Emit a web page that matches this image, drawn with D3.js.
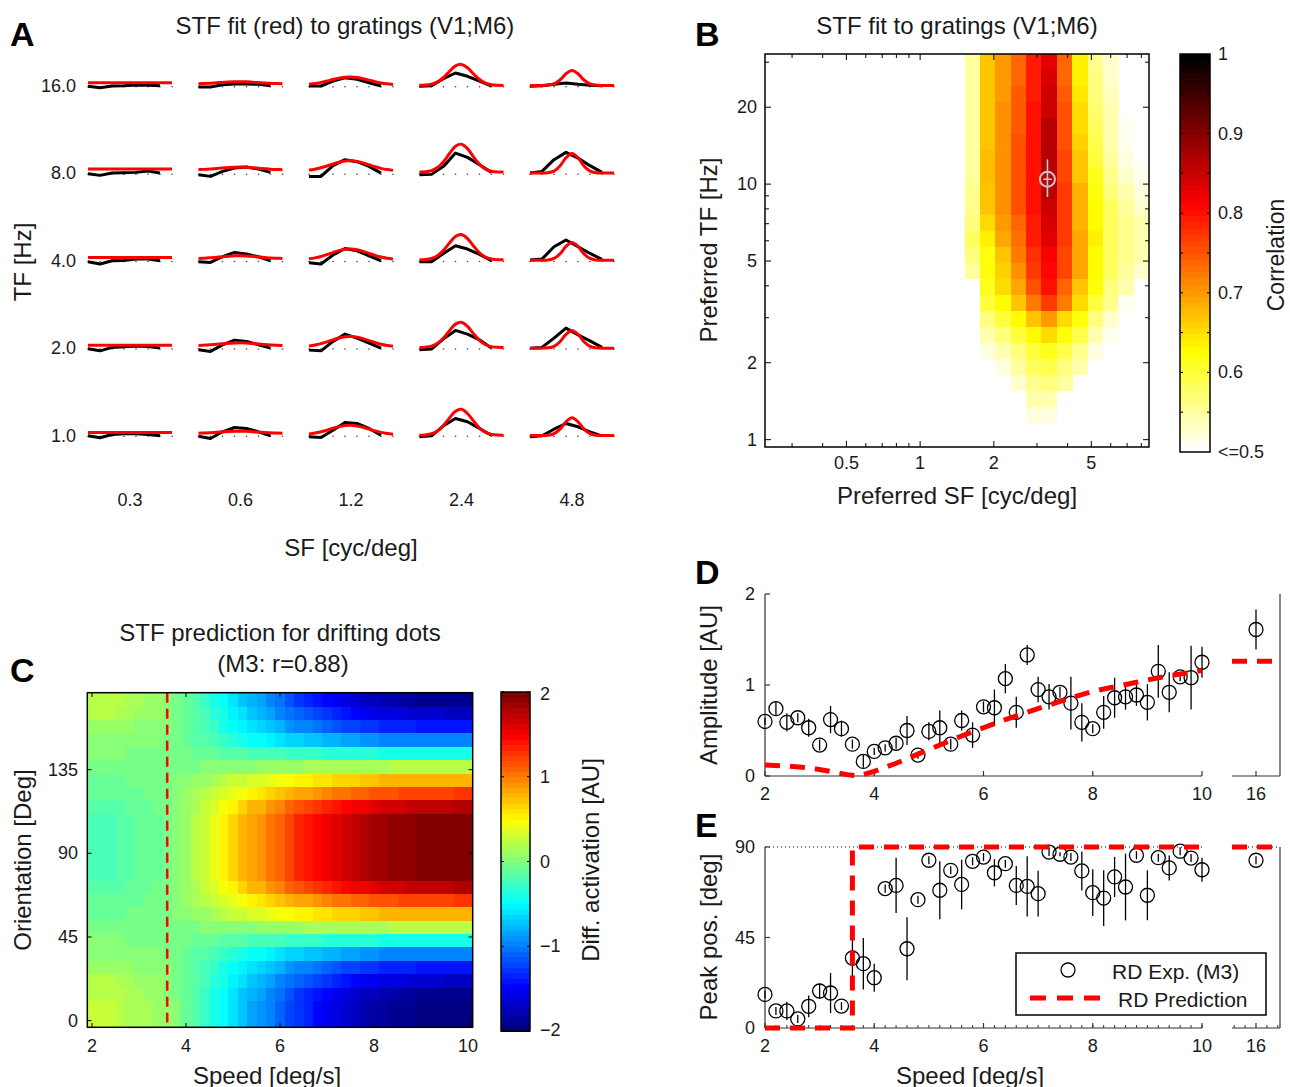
<!DOCTYPE html>
<html><head><meta charset="utf-8">
<script src="https://cdn.jsdelivr.net/npm/d3@7"></script>
<style>
body{margin:0;background:#fff}
svg{display:block}
text{font-family:"Liberation Sans",Arial,Helvetica,sans-serif;fill:#1a1a1a}
</style>
</head><body>
<svg id="fig" width="1290" height="1087"></svg>
<script>
// ================= DATA =================
// ---- Panel A: STF fit (red) to gratings ----
const aRowLabels = ["16.0","8.0","4.0","2.0","1.0"];   // TF [Hz]
const aColLabels = ["0.3","0.6","1.2","2.4","4.8"];     // SF [cyc/deg]
const aDataX = [0,1,2,3,4,5,6];
const aFitX = [0,0.5,1,1.5,2,2.5,3,3.5,4,4.5,5,5.5,6,6.5,7];
const aDotX = [0,1,2,3,4,5,6,7];
// measured responses (black), rows top->bottom, 5 cells each
const aData = [
 [[-0.03,-0.17,0,0.03,0.1,0.07,0.03],[-0.1,-0.1,0.13,0.2,0.2,0.17,0.03],[0,0,0.5,0.83,0.67,0.33,0],[-0.03,0.03,0.73,1.3,0.97,0.5,0],[-0.03,0.03,0.17,0.3,0.17,0.07,0.03]],
 [[-0.03,-0.2,0.03,0.07,0.1,0.23,0.03],[-0.13,-0.3,0.2,0.53,0.63,0.43,0.1],[-0.3,-0.3,0.77,1.37,1.17,0.7,0.03],[-0.13,-0.1,0.7,2.03,1.6,0.87,0.1],[0.03,0.2,1.37,2.1,1.53,0.77,0.1]],
 [[-0.1,-0.33,0,0.03,0.17,0.17,0],[-0.1,-0.17,0.4,0.83,0.67,0.4,0],[-0.2,-0.33,0.57,1.23,1.0,0.5,0],[-0.1,-0.1,0.73,1.5,1.17,0.63,0],[0.07,0.17,1.4,2.07,1.4,0.73,0.13]],
 [[-0.07,-0.27,0.07,0.13,0.2,0.17,0],[-0.17,-0.33,0.33,0.8,0.67,0.33,0],[-0.2,-0.27,0.67,1.4,1.0,0.5,0],[-0.17,-0.1,0.93,1.77,1.4,0.83,0],[0,0.07,1.0,2.0,1.33,0.73,0.07]],
 [[-0.03,-0.23,0.1,0.17,0.17,0.1,-0.03],[-0.07,-0.3,0.37,0.8,0.7,0.37,-0.03],[-0.13,-0.2,0.53,1.3,1.2,0.7,0.03],[-0.13,-0.03,0.97,1.7,1.37,0.7,0.03],[-0.13,-0.03,0.63,1.2,0.87,0.37,-0.03]]
];
// STF model fit (red)
const aFit = [
 [[0.33,0.33,0.33,0.33,0.33,0.33,0.33,0.33,0.33,0.33,0.33,0.33,0.33,0.33,0.33],
  [0.23,0.25,0.28,0.32,0.36,0.40,0.42,0.43,0.42,0.38,0.34,0.30,0.27,0.24,0.23],
  [0.18,0.25,0.36,0.50,0.65,0.78,0.88,0.90,0.85,0.73,0.59,0.44,0.31,0.22,0.16],
  [0.07,0.09,0.18,0.41,0.85,1.47,2.01,2.16,1.82,1.21,0.65,0.29,0.13,0.08,0.06],
  [0.06,0.06,0.06,0.09,0.21,0.60,1.22,1.56,1.22,0.60,0.21,0.09,0.06,0.06,0.06]],
 [[0.43,0.43,0.43,0.43,0.43,0.43,0.43,0.43,0.43,0.43,0.43,0.43,0.43,0.43,0.43],
  [0.38,0.40,0.44,0.49,0.54,0.59,0.62,0.63,0.61,0.57,0.52,0.47,0.42,0.39,0.37],
  [0.33,0.42,0.56,0.74,0.94,1.12,1.24,1.27,1.20,1.05,0.86,0.66,0.50,0.38,0.30],
  [0.13,0.16,0.28,0.58,1.17,1.99,2.71,2.92,2.47,1.65,0.90,0.43,0.22,0.14,0.13],
  [0.03,0.03,0.03,0.06,0.23,0.74,1.56,2.00,1.56,0.74,0.23,0.06,0.03,0.03,0.03]],
 [[0.33,0.33,0.33,0.33,0.33,0.33,0.33,0.33,0.33,0.33,0.33,0.33,0.33,0.33,0.33],
  [0.23,0.26,0.30,0.35,0.40,0.46,0.49,0.50,0.48,0.44,0.38,0.33,0.28,0.25,0.22],
  [0.19,0.29,0.43,0.62,0.82,1.01,1.14,1.17,1.10,0.94,0.74,0.54,0.37,0.25,0.17],
  [0.10,0.13,0.23,0.51,1.04,1.78,2.43,2.62,2.21,1.48,0.80,0.37,0.18,0.11,0.10],
  [0.05,0.05,0.05,0.08,0.23,0.69,1.43,1.83,1.43,0.69,0.23,0.08,0.05,0.05,0.05]],
 [[0.30,0.30,0.30,0.30,0.30,0.30,0.30,0.30,0.30,0.30,0.30,0.30,0.30,0.30,0.30],
  [0.27,0.30,0.33,0.38,0.44,0.49,0.52,0.53,0.51,0.47,0.42,0.36,0.32,0.28,0.26],
  [0.22,0.31,0.45,0.63,0.83,1.02,1.14,1.17,1.10,0.95,0.75,0.56,0.39,0.27,0.19],
  [0.07,0.10,0.20,0.48,1.01,1.75,2.40,2.59,2.18,1.45,0.77,0.34,0.15,0.08,0.07],
  [0,0,0,0.03,0.18,0.64,1.37,1.77,1.37,0.64,0.18,0.03,0,0,0]],
 [[0.30,0.30,0.30,0.30,0.30,0.30,0.30,0.30,0.30,0.30,0.30,0.30,0.30,0.30,0.30],
  [0.23,0.25,0.28,0.32,0.36,0.40,0.42,0.43,0.42,0.38,0.34,0.30,0.27,0.24,0.23],
  [0.15,0.24,0.37,0.53,0.72,0.89,1.00,1.03,0.96,0.82,0.64,0.46,0.31,0.20,0.13],
  [0.03,0.06,0.17,0.45,1.00,1.76,2.43,2.62,2.20,1.45,0.75,0.31,0.11,0.04,0.03],
  [0,0,0,0.03,0.18,0.64,1.37,1.77,1.37,0.64,0.18,0.03,0,0,0]]
];

// ---- Panel B: correlation map ----
const bSF = [1.634,1.888,2.181,2.520,2.911,3.364,3.886,4.490,5.187,5.993,6.924,8.0];
const bTF = [0.94,1.086,1.255,1.450,1.675,1.935,2.236,2.583,2.984,3.448,3.984,4.603,5.317,6.144,7.098,8.201,9.475,10.94,12.64,14.61,16.88,19.50,22.53,26.03,30.08];
const bCorr = [ // rows bottom (low TF) -> top
 [0.5,0.5,0.5,0.5,0.5,0.5,0.5,0.5,0.5,0.5,0.5,0.5],
 [0.5,0.5,0.5,0.5,0.5,0.5,0.5,0.5,0.5,0.5,0.5,0.5],
 [0.5,0.5,0.5,0.5,0.52,0.52,0.5,0.5,0.5,0.5,0.5,0.5],
 [0.5,0.5,0.5,0.5,0.54,0.54,0.5,0.5,0.5,0.5,0.5,0.5],
 [0.5,0.5,0.5,0.53,0.56,0.57,0.55,0.5,0.5,0.5,0.5,0.5],
 [0.5,0.5,0.52,0.55,0.58,0.59,0.57,0.54,0.5,0.5,0.5,0.5],
 [0.5,0.52,0.54,0.57,0.60,0.61,0.59,0.56,0.52,0.5,0.5,0.5],
 [0.5,0.54,0.57,0.60,0.63,0.65,0.62,0.59,0.54,0.51,0.5,0.5],
 [0.5,0.57,0.60,0.63,0.67,0.70,0.65,0.62,0.57,0.53,0.5,0.5],
 [0.5,0.60,0.63,0.67,0.72,0.77,0.72,0.65,0.60,0.56,0.51,0.5],
 [0.5,0.61,0.65,0.69,0.75,0.80,0.74,0.67,0.62,0.57,0.54,0.5],
 [0.55,0.62,0.66,0.71,0.77,0.81,0.76,0.69,0.63,0.58,0.55,0.53],
 [0.57,0.62,0.67,0.72,0.78,0.82,0.765,0.69,0.63,0.58,0.56,0.54],
 [0.58,0.64,0.69,0.73,0.79,0.83,0.77,0.69,0.635,0.58,0.56,0.54],
 [0.57,0.65,0.70,0.74,0.79,0.84,0.77,0.68,0.63,0.58,0.56,0.54],
 [0.56,0.67,0.71,0.75,0.80,0.85,0.77,0.68,0.63,0.58,0.55,0.53],
 [0.56,0.67,0.71,0.75,0.80,0.86,0.77,0.68,0.62,0.57,0.54,0.52],
 [0.55,0.675,0.71,0.75,0.80,0.86,0.765,0.67,0.61,0.56,0.53,0.51],
 [0.55,0.675,0.71,0.75,0.80,0.86,0.76,0.67,0.60,0.55,0.52,0.5],
 [0.55,0.67,0.71,0.75,0.80,0.86,0.75,0.66,0.59,0.54,0.51,0.5],
 [0.55,0.67,0.71,0.745,0.80,0.86,0.75,0.655,0.58,0.54,0.51,0.5],
 [0.55,0.67,0.705,0.745,0.80,0.85,0.75,0.65,0.575,0.54,0.5,0.5],
 [0.55,0.67,0.70,0.745,0.795,0.845,0.745,0.645,0.57,0.535,0.5,0.5],
 [0.55,0.67,0.70,0.74,0.79,0.84,0.74,0.64,0.57,0.53,0.5,0.5],
 [0.55,0.67,0.70,0.74,0.79,0.83,0.74,0.64,0.56,0.53,0.5,0.5]
];
const bBest = {sf:3.31, tf:10.45, tfLo:8.9, tfHi:12.5, sfLo:3.18, sfHi:3.45};
const bXTicks = [0.5,1,2,5], bXMinor = [0.3,0.4,0.6,0.7,0.8,0.9,3,4,6,7,8];
const bYTicks = [1,2,5,10,20], bYMinor = [3,4,6,7,8,9,30];
const bCbTicks = [1,0.9,0.8,0.7,0.6,0.5];
const bCbLabels = ["1","0.9","0.8","0.7","0.6","<=0.5"];

// ---- Panel C: predicted differential activation ----
const speeds = [2,2.2,2.4,2.6,2.8,3,3.2,3.4,3.6,3.8,4,4.2,4.4,4.6,4.8,5,5.2,5.4,5.6,5.8,6,6.2,6.4,6.6,6.8,7,7.2,7.4,7.6,7.8,8,8.2,8.4,8.6,8.8,9,9.2,9.4,9.6,9.8,10];
const cOri = [0,7.2,14.4,21.6,28.8,36,43.2,50.4,57.6,64.8,72,79.2,86.4,93.6,100.8,108,115.2,122.4,129.6,136.8,144,151.2,158.4,165.6,172.8];
const cRowA = [0.25,0.25,0.25,0.23,0.18,0.16,0.14,0.12,0.07,0.0,-0.07,-0.16,-0.27,-0.38,-0.49,-0.61,-0.72,-0.83,-0.9,-0.99,-1.1,-1.21,-1.3,-1.37,-1.44,-1.53,-1.6,-1.66,-1.71,-1.78,-1.82,-1.87,-1.89,-1.91,-1.93,-1.96,-1.97,-1.98,-1.99,-2,-2];
const cRowB = [0.22,0.22,0.22,0.2,0.16,0.13,0.11,0.09,0.05,-0.02,-0.08,-0.17,-0.27,-0.38,-0.49,-0.59,-0.7,-0.81,-0.87,-0.96,-1.06,-1.17,-1.26,-1.32,-1.39,-1.47,-1.53,-1.6,-1.64,-1.71,-1.75,-1.79,-1.81,-1.83,-1.86,-1.88,-1.89,-1.9,-1.91,-1.92,-1.92];
const cRowC = [0.19,0.19,0.19,0.17,0.13,0.11,0.1,0.08,0.04,-0.02,-0.07,-0.15,-0.24,-0.34,-0.43,-0.53,-0.62,-0.72,-0.77,-0.85,-0.94,-1.04,-1.11,-1.17,-1.23,-1.3,-1.36,-1.42,-1.45,-1.51,-1.55,-1.59,-1.61,-1.62,-1.64,-1.66,-1.67,-1.68,-1.69,-1.7,-1.7];
const cRowD = [0.12,0.12,0.12,0.1,0.07,0.06,0.04,0.03,0,-0.05,-0.1,-0.16,-0.23,-0.31,-0.39,-0.47,-0.54,-0.62,-0.67,-0.73,-0.8,-0.88,-0.94,-0.99,-1.04,-1.1,-1.14,-1.19,-1.22,-1.27,-1.3,-1.33,-1.34,-1.36,-1.37,-1.39,-1.4,-1.4,-1.41,-1.42,-1.42];
const cRowE = [0.06,0.06,0.06,0.05,0.03,0.02,0.01,0,-0.02,-0.06,-0.09,-0.13,-0.18,-0.24,-0.29,-0.34,-0.4,-0.45,-0.48,-0.52,-0.58,-0.63,-0.67,-0.7,-0.74,-0.78,-0.81,-0.84,-0.86,-0.89,-0.92,-0.94,-0.95,-0.96,-0.97,-0.98,-0.98,-0.99,-0.99,-1,-1];
const cRowF = [0,0,0,0,-0.01,-0.02,-0.02,-0.02,-0.03,-0.04,-0.06,-0.07,-0.09,-0.11,-0.13,-0.15,-0.17,-0.19,-0.2,-0.22,-0.24,-0.26,-0.28,-0.29,-0.3,-0.32,-0.33,-0.34,-0.35,-0.36,-0.37,-0.38,-0.38,-0.38,-0.39,-0.39,-0.39,-0.4,-0.4,-0.4,-0.4];
const cRowG = [-0.06,-0.06,-0.06,-0.06,-0.05,-0.05,-0.05,-0.04,-0.04,-0.03,-0.02,-0.01,0,0.01,0.03,0.04,0.05,0.06,0.07,0.08,0.1,0.11,0.12,0.13,0.14,0.15,0.15,0.16,0.17,0.17,0.18,0.18,0.19,0.19,0.19,0.19,0.2,0.2,0.2,0.2,0.2];
const cRowH = [-0.09,-0.09,-0.09,-0.08,-0.06,-0.05,-0.05,-0.04,-0.02,0.01,0.03,0.07,0.11,0.16,0.2,0.25,0.29,0.34,0.36,0.4,0.44,0.49,0.52,0.55,0.58,0.61,0.64,0.67,0.68,0.71,0.73,0.75,0.76,0.76,0.77,0.78,0.79,0.79,0.8,0.8,0.8];
const cRowI = [-0.12,-0.12,-0.12,-0.11,-0.08,-0.07,-0.05,-0.04,-0.01,0.03,0.07,0.13,0.2,0.26,0.33,0.4,0.47,0.54,0.58,0.63,0.7,0.77,0.83,0.87,0.91,0.96,1.0,1.04,1.07,1.11,1.14,1.17,1.18,1.2,1.21,1.22,1.23,1.24,1.24,1.25,1.25];
const cRowJ = [-0.17,-0.17,-0.17,-0.15,-0.11,-0.09,-0.07,-0.05,-0.02,0.04,0.1,0.18,0.27,0.37,0.46,0.56,0.66,0.75,0.81,0.89,0.98,1.08,1.15,1.21,1.27,1.35,1.4,1.46,1.5,1.56,1.6,1.63,1.65,1.67,1.69,1.71,1.72,1.73,1.74,1.75,1.75];
const cRowK = [-0.2,-0.2,-0.2,-0.18,-0.13,-0.11,-0.09,-0.07,-0.02,0.04,0.11,0.2,0.31,0.42,0.53,0.64,0.75,0.86,0.92,1.01,1.12,1.23,1.32,1.38,1.45,1.54,1.6,1.67,1.71,1.78,1.82,1.87,1.89,1.91,1.93,1.96,1.97,1.98,1.99,2,2];
const cVals = [cRowA,cRowA,cRowB,cRowC,cRowD,cRowE,cRowF,cRowG,cRowH,cRowI,cRowJ,cRowK,cRowK,cRowK,cRowK,cRowK,cRowJ,cRowI,cRowH,cRowG,cRowF,cRowE,cRowD,cRowC,cRowB];
const cThreshold = 3.6;
const cXTicks = [2,4,6,8,10], cYTicks = [0,45,90,135];
const cCbTicks = [2,1,0,-1,-2], cCbLabels = ["2","1","0","\u22121","\u22122"];

// ---- Panel D: amplitude ----
const dAmp = [0.60,0.74,0.59,0.64,0.53,0.34,0.62,0.52,0.35,0.16,0.27,0.31,0.36,0.50,0.23,0.49,0.53,0.35,0.61,0.45,0.76,0.75,1.07,0.70,1.33,0.95,0.87,0.92,0.80,0.59,0.52,0.70,0.86,0.87,0.89,0.81,1.15,0.92,1.09,1.08,1.25];
const dErr = [0.04,0.08,0.1,0.05,0.1,0.06,0.15,0.09,0.05,0.07,0.04,0.04,0.06,0.16,0.04,0.1,0.19,0.06,0.11,0.14,0.06,0.2,0.16,0.17,0.11,0.14,0.14,0.06,0.29,0.21,0.05,0.18,0.22,0.14,0.12,0.2,0.29,0.22,0.05,0.35,0.17];
const dFast = {speed:16, amp:1.61, err:0.22, pred:1.26};
const dPredSpeed = [2,2.4,2.8,3.2,3.5,3.7,4,4.4,4.8,5.2,5.6,6,6.4,6.8,7.2,7.6,8,8.4,8.8,9.2,9.6,10];
const dPred = [0.12,0.11,0.09,0.05,0.015,0,0.05,0.14,0.24,0.34,0.44,0.53,0.62,0.7,0.78,0.86,0.93,0.98,1.03,1.08,1.12,1.16];

// ---- Panel E: peak position ----
const ePeak = [16.7,8.5,8.5,4.5,10.8,18.4,17.4,10.9,34.8,32.0,25.0,69.3,70.9,39.4,63.8,83.4,68.5,78.4,71.4,82.9,85.0,77.2,81.7,70.9,70.4,66.8,87.5,86.4,85.0,78.1,67.3,64.6,75.1,70.1,85.9,66.0,84.7,79.6,87.9,84.5,78.7];
const eErr = [2,2,4.5,2,5.4,3.7,10,2,10,12.8,7,2,13.7,15.7,2,2,14.4,2,12.3,2,2,6.8,2,9.7,15,11.4,2,1,2,9.7,11.6,13.9,10,16.6,2,12.4,2,6.2,2,2,6];
const eFast = {speed:16, peak:83.4, err:2, pred:90};
const ePredSpeed = [2,3.6,3.6,10];
const ePred = [0,0,90,90];

// ================= DRAWING =================
const svg = d3.select("#fig");
const LAB = 24, TICK = 18;
function txt(g, x, y, s, size, o = {}) {
  const t = g.append("text").attr("x", x).attr("y", y).text(s)
    .attr("font-size", size)
    .attr("text-anchor", o.anchor || "middle")
    .attr("dominant-baseline", o.base || "central");
  if (o.rotate) t.attr("transform", `rotate(-90,${x},${y})`);
  if (o.weight) t.attr("font-weight", o.weight);
  return t;
}
function ln(g, x1, y1, x2, y2, w = 1, c = "#000") {
  return g.append("line").attr("x1", x1).attr("y1", y1).attr("x2", x2).attr("y2", y2)
    .attr("stroke", c).attr("stroke-width", w);
}
const cl = v => Math.max(0, Math.min(1, v));
function jet(t) {
  t = Math.min(63, Math.floor(cl(t) * 64)) / 63;
  return d3.rgb(255 * cl(Math.min(4 * t - 1.5, -4 * t + 4.5)), 255 * cl(Math.min(4 * t - 0.5, -4 * t + 3.5)), 255 * cl(Math.min(4 * t + 0.5, -4 * t + 2.5))).toString();
}
function hotR(t) { // 0 -> white, 1 -> black
  t = Math.min(63, Math.floor(cl(t) * 64)) / 63;
  const s = 1 - t;
  return d3.rgb(255 * cl(s / 0.375), 255 * cl((s - 0.375) / 0.375), 255 * cl((s - 0.75) / 0.25)).toString();
}

// panel letters
[["A",10,46],["B",695,46],["C",10,682],["D",695,584],["E",695,837]].forEach(([l,x,y]) =>
  txt(svg, x, y, l, 34, {anchor:"start", base:"alphabetic", weight:"bold"}).style("fill","#000"));

// ---------- Panel A ----------
const A = svg.append("g");
const aColX = d3.scaleLinear().domain([0,4]).range([88,530]);
const aRowY = d3.scaleLinear().domain([0,4]).range([86,435.5]);
const aInX = d3.scaleLinear().domain([0,7]).range([0,84]);
const aInY = d3.scaleLinear().domain([0,1]).range([0,-10]);
txt(A, 345, 25, "STF fit (red) to gratings (V1;M6)", LAB);
txt(A, 22, 262, "TF [Hz]", LAB, {rotate:true});
txt(A, 351, 547, "SF [cyc/deg]", LAB);
aColLabels.forEach((lab, c) => txt(A, aColX(c) + 42, 500, lab, TICK));
const blackLine = d3.line().x((d, i) => aInX(aDataX[i])).y(d => aInY(d));
const redLine = d3.line().curve(d3.curveCatmullRom).x((d, i) => aInX(aFitX[i])).y(d => aInY(d));
aRowLabels.forEach((lab, r) => {
  const y0 = aRowY(r);
  txt(A, 76, y0, lab, TICK, {anchor:"end"});
  aColLabels.forEach((_, c) => {
    const g = A.append("g").attr("transform", `translate(${aColX(c)},${y0})`);
    g.selectAll("circle").data(aDotX).join("circle")
      .attr("cx", d => aInX(d)).attr("cy", 0.8).attr("r", 0.8).attr("fill", "#444");
    g.append("path").attr("d", blackLine(aData[r][c])).attr("fill","none")
      .attr("stroke","#000").attr("stroke-width",3).attr("stroke-linejoin","round");
    g.append("path").attr("d", redLine(aFit[r][c])).attr("fill","none")
      .attr("stroke","#ff0000").attr("stroke-width",3).attr("stroke-linejoin","round");
  });
});

// ---------- Panel B ----------
const B = svg.append("g");
const bX = d3.scaleLog().domain([0.2326, 8.6]).range([765, 1149]);
const bY = d3.scaleLog().domain([0.936, 32.3]).range([447, 54]);
const bColor = v => hotR((v - 0.5) / 0.5);
svg.append("defs").append("clipPath").attr("id","bclip").append("rect")
  .attr("x",765).attr("y",54).attr("width",384).attr("height",393);
const bHalf = Math.sqrt(bSF[1] / bSF[0]);
const bCells = [];
bCorr.forEach((row, r) => row.forEach((v, c) => { if (v > 0.505) bCells.push({r, c, v}); }));
B.append("g").attr("clip-path","url(#bclip)").selectAll("rect").data(bCells).join("rect")
  .attr("x", d => bX(bSF[d.c] / bHalf))
  .attr("width", d => bX(bSF[d.c] * bHalf) - bX(bSF[d.c] / bHalf) + 0.4)
  .attr("y", d => bY(bTF[d.r] * bHalf))
  .attr("height", d => bY(bTF[d.r] / bHalf) - bY(bTF[d.r] * bHalf) + 0.4)
  .attr("fill", d => bColor(d.v)).attr("shape-rendering","crispEdges");
// best estimate marker
ln(B, bX(bBest.sf), bY(bBest.tfLo), bX(bBest.sf), bY(bBest.tfHi), 1.6, "#c8c8c8");
ln(B, bX(bBest.sfLo), bY(bBest.tf), bX(bBest.sfHi), bY(bBest.tf), 1.6, "#c8c8c8");
B.append("circle").attr("cx", bX(bBest.sf)).attr("cy", bY(bBest.tf)).attr("r", 7.5)
  .attr("fill","none").attr("stroke","#c8c8c8").attr("stroke-width",2);
B.append("rect").attr("x",765).attr("y",54).attr("width",384).attr("height",393)
  .attr("fill","none").attr("stroke","#000").attr("stroke-width",1.5);
bXTicks.forEach(t => { ln(B,bX(t),447,bX(t),441,1); ln(B,bX(t),54,bX(t),60,1); txt(B,bX(t),463,String(t),TICK); });
bXMinor.forEach(t => { ln(B,bX(t),447,bX(t),443,1); ln(B,bX(t),54,bX(t),58,1); });
bYTicks.forEach(t => { ln(B,765,bY(t),771,bY(t),1); ln(B,1149,bY(t),1143,bY(t),1); txt(B,757,bY(t),String(t),TICK,{anchor:"end"}); });
bYMinor.forEach(t => { ln(B,765,bY(t),769,bY(t),1); ln(B,1149,bY(t),1145,bY(t),1); });
txt(B, 957, 25, "STF fit to gratings (V1;M6)", LAB);
txt(B, 957, 495, "Preferred SF [cyc/deg]", LAB);
txt(B, 708, 250, "Preferred TF [Hz]", LAB, {rotate:true});
// colorbar B
const bCbY = d3.scaleLinear().domain([0.5, 1]).range([452, 54]);
const bLevels = d3.range(64);
B.selectAll("rect.cb").data(bLevels).join("rect").attr("class","cb")
  .attr("x",1180).attr("width",30)
  .attr("y", i => bCbY(0.5 + (i + 1) / 64 * 0.5)).attr("height", (452 - 54) / 64 + 0.5)
  .attr("fill", i => hotR((i + 0.5) / 64)).attr("shape-rendering","crispEdges");
B.append("rect").attr("x",1180).attr("y",54).attr("width",30).attr("height",398)
  .attr("fill","none").attr("stroke","#000").attr("stroke-width",1.5);
d3.range(0.55, 1.0, 0.05).forEach(t => { ln(B,1180,bCbY(t),1183,bCbY(t),1); ln(B,1210,bCbY(t),1207,bCbY(t),1); });
bCbTicks.forEach((t, i) => txt(B, 1218, bCbY(t), bCbLabels[i], TICK, {anchor:"start"}));
txt(B, 1276, 255, "Correlation", 23, {rotate:true});

// ---------- Panel C ----------
const C = svg.append("g");
const cX = d3.scaleLinear().domain([1.9, 10.1]).range([87.3, 472.7]);
const cY = d3.scaleLinear().domain([-3.6, 176.4]).range([1027.3, 692.7]);
const cColor = v => jet((v + 2) / 4);
const cCells = [];
cVals.forEach((row, r) => row.forEach((v, k) => cCells.push({o: cOri[r], s: speeds[k], v})));
C.append("g").selectAll("rect").data(cCells).join("rect")
  .attr("x", d => cX(d.s - 0.1)).attr("width", cX(2.2) - cX(2.0) + 0.5)
  .attr("y", d => cY(d.o + 3.6)).attr("height", cY(0) - cY(7.2) + 0.5)
  .attr("fill", d => cColor(d.v)).attr("shape-rendering","crispEdges");
ln(C, cX(cThreshold), cY(176.4), cX(cThreshold), cY(-1), 2.5, "#ff0000").attr("stroke-dasharray","10,6");
C.append("rect").attr("x",87.3).attr("y",692.7).attr("width",385.4).attr("height",334.6)
  .attr("fill","none").attr("stroke","#000").attr("stroke-width",1.5);
cXTicks.forEach(t => { ln(C,cX(t),1027.3,cX(t),1023,1); ln(C,cX(t),692.7,cX(t),697,1); txt(C,cX(t),1046,String(t),TICK); });
cYTicks.forEach(t => { ln(C,87.3,cY(t),91.5,cY(t),1); ln(C,472.7,cY(t),468.5,cY(t),1); txt(C,78,cY(t),String(t),TICK,{anchor:"end"}); });
txt(C, 280, 632, "STF prediction for drifting dots", LAB);
txt(C, 283, 663, "(M3: r=0.88)", LAB);
txt(C, 22, 860, "Orientation [Deg]", LAB, {rotate:true});
txt(C, 267, 1075, "Speed [deg/s]", LAB);
// colorbar C
const cCbY = d3.scaleLinear().domain([-2, 2]).range([1031, 692]);
C.selectAll("rect.cb").data(bLevels).join("rect").attr("class","cb")
  .attr("x",501).attr("width",29)
  .attr("y", i => cCbY(-2 + (i + 1) / 64 * 4)).attr("height", (1031 - 692) / 64 + 0.5)
  .attr("fill", i => jet((i + 0.5) / 64)).attr("shape-rendering","crispEdges");
C.append("rect").attr("x",501).attr("y",692).attr("width",29).attr("height",339)
  .attr("fill","none").attr("stroke","#000").attr("stroke-width",1.5);
cCbTicks.forEach((t, i) => { ln(C,501,cCbY(t),504,cCbY(t),1); ln(C,530,cCbY(t),527,cCbY(t),1);
  txt(C, 540, cCbY(t) + (t === 2 ? 2 : t === -2 ? -1 : 0), cCbLabels[i], TICK, {anchor:"start"}); });
txt(C, 590, 860, "Diff. activation [AU]", LAB, {rotate:true});

// ---------- Panels D & E shared ----------
const sX = d3.scaleLinear().domain([2, 10]).range([765, 1202]);
const sX2 = d3.scaleLinear().domain([15.56, 16.44]).range([1232, 1280]);
function points(g, xs, ys, err, xScale, yScale) {
  const pts = xs.map((s, i) => ({s, v: ys[i], e: err[i]}));
  g.append("g").selectAll("line").data(pts).join("line")
    .attr("x1", d => xScale(d.s)).attr("x2", d => xScale(d.s))
    .attr("y1", d => yScale(d.v - d.e)).attr("y2", d => yScale(d.v + d.e))
    .attr("stroke","#000").attr("stroke-width",1.3);
  g.append("g").selectAll("circle").data(pts).join("circle")
    .attr("cx", d => xScale(d.s)).attr("cy", d => yScale(d.v)).attr("r", 7)
    .attr("fill","none").attr("stroke","#000").attr("stroke-width",1.3);
}

// ---------- Panel D ----------
const D = svg.append("g");
const dY = d3.scaleLinear().domain([0, 2]).range([776, 594]);
ln(D, 765, dY(0), 765, dY(2), 1.2, "#333");
ln(D, 765, dY(0), 1202, dY(0), 1.2, "#333");
ln(D, 1232, dY(0), 1280, dY(0), 1.2, "#333");
ln(D, 1280, dY(0), 1280, dY(2), 1.2, "#333");
[0,1,2].forEach(t => { ln(D,765,dY(t),770,dY(t),1.2,"#333"); txt(D,755,dY(t),String(t),TICK,{anchor:"end"}); });
[2,4,6,8,10].forEach(t => { ln(D,sX(t),776,sX(t),771,1.2,"#333"); txt(D,sX(t),794,String(t),TICK); });
ln(D, sX2(16), 776, sX2(16), 771, 1.2, "#333"); txt(D, sX2(16), 794, "16", TICK);
points(D, speeds, dAmp, dErr, sX, dY);
points(D, [dFast.speed], [dFast.amp], [dFast.err], sX2, dY);
const dPath = d3.line().x((d, i) => sX(dPredSpeed[i])).y(d => dY(d));
D.append("path").attr("d", dPath(dPred)).attr("fill","none").attr("stroke","#ff0000")
  .attr("stroke-width",5).attr("stroke-dasharray","15,10");
ln(D, 1232, dY(dFast.pred), 1280, dY(dFast.pred), 5, "#ff0000").attr("stroke-dasharray","15,10");
txt(D, 708, 685, "Amplitude [AU]", LAB, {rotate:true});

// ---------- Panel E ----------
const E = svg.append("g");
const eY = d3.scaleLinear().domain([0, 90]).range([1028, 847]);
ln(E, 765, eY(0), 765, eY(90), 1.2, "#333");
ln(E, 765, eY(0), 1202, eY(0), 1.2, "#333");
ln(E, 1232, eY(0), 1280, eY(0), 1.2, "#333");
ln(E, 1280, eY(0), 1280, eY(90), 1.2, "#333");
ln(E, 765, eY(90), 1202, eY(90), 1, "#000").attr("stroke-dasharray","1,3");
ln(E, 1232, eY(90), 1280, eY(90), 1, "#000").attr("stroke-dasharray","1,3");
[0,45,90].forEach(t => { ln(E,765,eY(t),770,eY(t),1.2,"#333"); txt(E,755,eY(t),String(t),TICK,{anchor:"end"}); });
speeds.forEach(s => ln(E, sX(s), 1028, sX(s), 1025, 1, "#333"));
[15.6,15.8,16.2,16.4].forEach(s => ln(E, sX2(s), 1028, sX2(s), 1025, 1, "#333"));
[2,4,6,8,10].forEach(t => { ln(E,sX(t),1028,sX(t),1023,1.2,"#333"); txt(E,sX(t),1046,String(t),TICK); });
ln(E, sX2(16), 1028, sX2(16), 1023, 1.2, "#333"); txt(E, sX2(16), 1046, "16", TICK);
points(E, speeds, ePeak, eErr, sX, eY);
points(E, [eFast.speed], [eFast.peak], [eFast.err], sX2, eY);
const ePath = d3.line().x((d, i) => sX(ePredSpeed[i])).y(d => eY(d));
E.append("path").attr("d", ePath(ePred)).attr("fill","none").attr("stroke","#ff0000")
  .attr("stroke-width",5).attr("stroke-dasharray","15,10");
ln(E, 1232, eY(eFast.pred), 1280, eY(eFast.pred), 5, "#ff0000").attr("stroke-dasharray","15,10");
txt(E, 708, 937, "Peak pos. [deg]", LAB, {rotate:true});
txt(E, 970, 1075, "Speed [deg/s]", LAB);
// legend
const L = E.append("g");
L.append("rect").attr("x",1016).attr("y",953).attr("width",250).attr("height",62)
  .attr("fill","#fff").attr("stroke","#000").attr("stroke-width",1.5);
L.append("circle").attr("cx",1068).attr("cy",970).attr("r",7).attr("fill","none").attr("stroke","#000").attr("stroke-width",1.3);
txt(L, 1112, 971, "RD Exp. (M3)", 21, {anchor:"start"});
ln(L, 1030, 998, 1106, 998, 5, "#ff0000").attr("stroke-dasharray","16,11");
txt(L, 1118, 999, "RD Prediction", 21, {anchor:"start"});
</script>
</body></html>
